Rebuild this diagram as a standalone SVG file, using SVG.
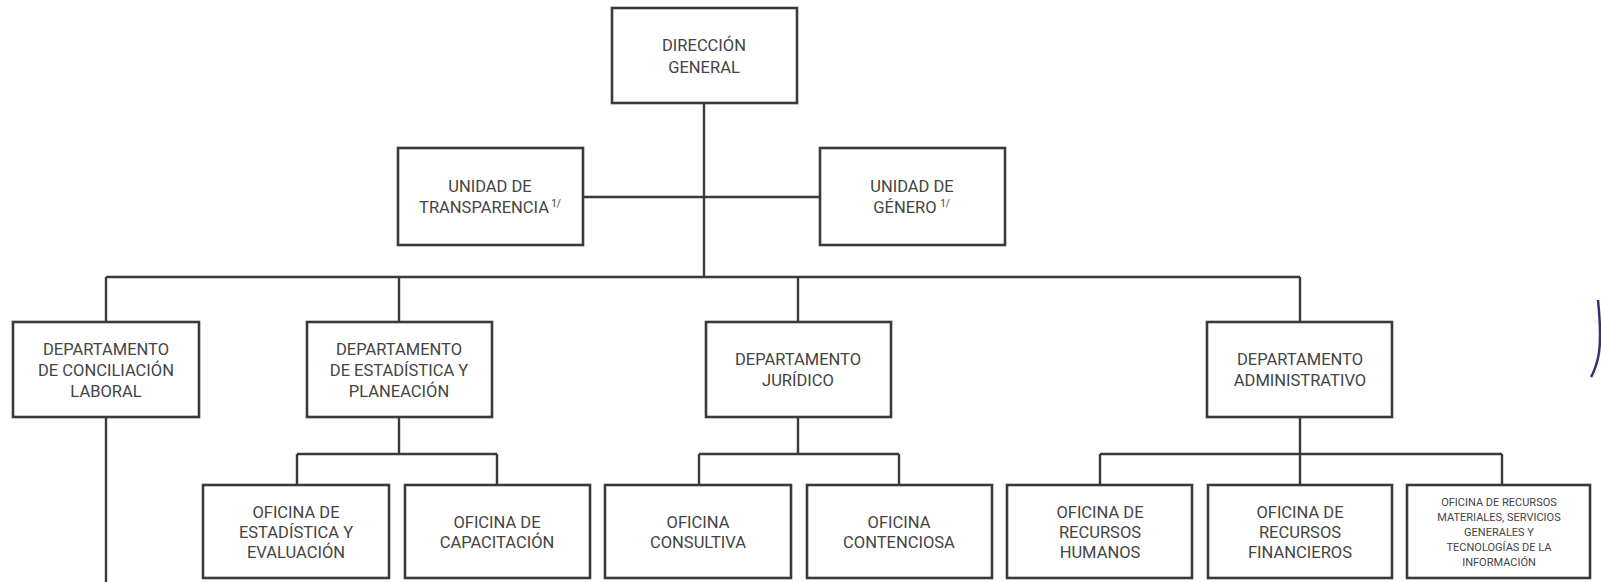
<svg xmlns="http://www.w3.org/2000/svg" width="1601" height="582" viewBox="0 0 1601 582">
<style>
.box{fill:#fff;stroke:#3a3a3a;stroke-width:2.6}
.ln{fill:none;stroke:#3a3a3a;stroke-width:2.4}
.t{font-family:Roboto,"Liberation Sans",sans-serif;font-size:16.5px;fill:#444;text-anchor:middle;dominant-baseline:central}
.s{font-size:11px}
.sup{font-size:10px}
</style>
<rect width="1601" height="582" fill="#fff"/>
<g id="connectors">
<path class="ln" d="M704 103V277M583 197H820M106 277H1300M106 277V322M399 277V322M798 277V322M1300 277V322"/>
<path class="ln" d="M106 417V582"/>
<path class="ln" d="M399 417V454M297 454H497M297 454V485M497 454V485"/>
<path class="ln" d="M798 417V454M699 454H899M699 454V485M899 454V485"/>
<path class="ln" d="M1300 417V454M1100 454H1502M1100 454V485M1300 454V485M1502 454V485"/>
</g>
<g id="direccion"><rect class="box" x="612" y="8" width="185" height="95"/><text class="t" x="704" y="45">DIRECCIÓN</text><text class="t" x="704" y="67">GENERAL</text></g>
<g id="transparencia"><rect class="box" x="398" y="148" width="185" height="97"/><text class="t" x="490" y="186">UNIDAD DE</text><text class="t" x="484" y="207">TRANSPARENCIA</text><text class="t sup" x="556" y="203">1/</text></g>
<g id="genero"><rect class="box" x="820" y="148" width="185" height="97"/><text class="t" x="912" y="186">UNIDAD DE</text><text class="t" x="905" y="207">GÉNERO</text><text class="t sup" x="945" y="203">1/</text></g>
<g id="conciliacion"><rect class="box" x="13" y="322" width="186" height="95"/><text class="t" x="106" y="349">DEPARTAMENTO</text><text class="t" x="106" y="370">DE CONCILIACIÓN</text><text class="t" x="106" y="391">LABORAL</text></g>
<g id="estadistica"><rect class="box" x="307" y="322" width="185" height="95"/><text class="t" x="399" y="349">DEPARTAMENTO</text><text class="t" x="399" y="370">DE ESTADÍSTICA Y</text><text class="t" x="399" y="391">PLANEACIÓN</text></g>
<g id="juridico"><rect class="box" x="706" y="322" width="185" height="95"/><text class="t" x="798" y="359">DEPARTAMENTO</text><text class="t" x="798" y="380">JURÍDICO</text></g>
<g id="administrativo"><rect class="box" x="1207" y="322" width="185" height="95"/><text class="t" x="1300" y="359">DEPARTAMENTO</text><text class="t" x="1300" y="380">ADMINISTRATIVO</text></g>
<g id="of-estadistica"><rect class="box" x="203" y="485" width="186" height="93"/><text class="t" x="296" y="512">OFICINA DE</text><text class="t" x="296" y="532">ESTADÍSTICA Y</text><text class="t" x="296" y="552">EVALUACIÓN</text></g>
<g id="of-capacitacion"><rect class="box" x="405" y="485" width="185" height="93"/><text class="t" x="497" y="522">OFICINA DE</text><text class="t" x="497" y="542">CAPACITACIÓN</text></g>
<g id="of-consultiva"><rect class="box" x="605" y="485" width="186" height="93"/><text class="t" x="698" y="522">OFICINA</text><text class="t" x="698" y="542">CONSULTIVA</text></g>
<g id="of-contenciosa"><rect class="box" x="807" y="485" width="185" height="93"/><text class="t" x="899" y="522">OFICINA</text><text class="t" x="899" y="542">CONTENCIOSA</text></g>
<g id="of-rh"><rect class="box" x="1007" y="485" width="185" height="93"/><text class="t" x="1100" y="512">OFICINA DE</text><text class="t" x="1100" y="532">RECURSOS</text><text class="t" x="1100" y="552">HUMANOS</text></g>
<g id="of-rf"><rect class="box" x="1208" y="485" width="184" height="93"/><text class="t" x="1300" y="512">OFICINA DE</text><text class="t" x="1300" y="532">RECURSOS</text><text class="t" x="1300" y="552">FINANCIEROS</text></g>
<g id="of-rm"><rect class="box" x="1407" y="485" width="183" height="93"/><text class="t s" x="1499" y="502">OFICINA DE RECURSOS</text><text class="t s" x="1499" y="517">MATERIALES, SERVICIOS</text><text class="t s" x="1499" y="532">GENERALES Y</text><text class="t s" x="1499" y="547">TECNOLOGÍAS DE LA</text><text class="t s" x="1499" y="562">INFORMACIÓN</text></g>
<path d="M1598 300C1600 320 1601 345 1598 358C1596 366 1594 372 1591 377" fill="none" stroke="#3b2f6e" stroke-width="2.5"/>
</svg>
